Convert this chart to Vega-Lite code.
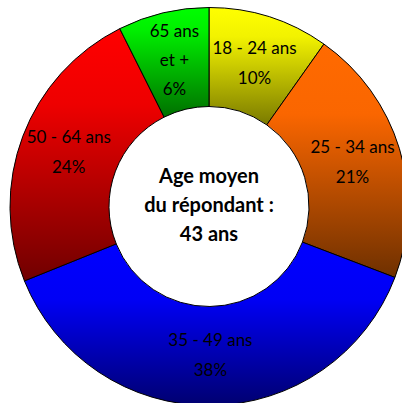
{
  "$schema": "https://vega.github.io/schema/vega-lite/v6.json",
  "width": 386,
  "height": 393,
  "autosize": {"type": "none"},
  "padding": {"left": 16, "top": 10, "right": 0, "bottom": 0},
  "background": "white",
  "config": {"view": {"stroke": null}},
  "layer": [
    {
      "data": {"values": [
        {"age": "18 - 24 ans", "pct": 9.8, "label": "18 - 24 ans\n10%"},
        {"age": "25 - 34 ans", "pct": 21.0, "label": "25 - 34 ans\n21%"},
        {"age": "35 - 49 ans", "pct": 38.1, "label": "35 - 49 ans\n38%"},
        {"age": "50 - 64 ans", "pct": 23.7, "label": "50 - 64 ans\n24%"},
        {"age": "65 ans et +", "pct": 7.4, "label": "65 ans\net +\n6%"}
      ]},
      "encoding": {
        "theta": {"field": "pct", "type": "quantitative", "stack": true}
      },
      "layer": [
        {
          "mark": {"type": "arc", "outerRadius": 199, "innerRadius": 100, "stroke": "black", "strokeWidth": 1},
          "encoding": {
            "fill": {
              "condition": [
                {"test": "datum.age === '18 - 24 ans'", "value": {"gradient": "linear", "x1": 0, "y1": 0, "x2": 0, "y2": 1, "stops": [{"offset": 0, "color": "#ffff00"}, {"offset": 0.25, "color": "#f2f200"}, {"offset": 1, "color": "#7a7a00"}]}},
                {"test": "datum.age === '25 - 34 ans'", "value": {"gradient": "linear", "x1": 0, "y1": 0, "x2": 0, "y2": 1, "stops": [{"offset": 0, "color": "#ff6a00"}, {"offset": 0.3, "color": "#fa6600"}, {"offset": 1, "color": "#6e3000"}]}},
                {"test": "datum.age === '35 - 49 ans'", "value": {"gradient": "linear", "x1": 0, "y1": 0, "x2": 0, "y2": 1, "stops": [{"offset": 0, "color": "#0000ff"}, {"offset": 0.35, "color": "#0000f5"}, {"offset": 1, "color": "#000070"}]}},
                {"test": "datum.age === '50 - 64 ans'", "value": {"gradient": "linear", "x1": 0, "y1": 0, "x2": 0, "y2": 1, "stops": [{"offset": 0, "color": "#ff0000"}, {"offset": 0.3, "color": "#ee0000"}, {"offset": 1, "color": "#700000"}]}}
              ],
              "value": {"gradient": "linear", "x1": 0, "y1": 0, "x2": 0, "y2": 1, "stops": [{"offset": 0, "color": "#00ff00"}, {"offset": 0.2, "color": "#00f000"}, {"offset": 1, "color": "#007000"}]}
            }
          }
        },
        {
          "mark": {"type": "text", "radius": 150, "font": "Lato", "fontSize": 17, "lineBreak": "\n", "lineHeight": 30, "baseline": "middle", "align": "center", "color": "black", "dy": -15},
          "encoding": {
            "text": {"condition": {"test": "datum.age === '65 ans et +'", "value": ""}, "field": "label", "type": "nominal"}
          }
        },
        {
          "mark": {"type": "text", "radius": 150, "font": "Lato", "fontSize": 17, "lineBreak": "\n", "lineHeight": 29, "baseline": "middle", "align": "center", "color": "black", "dy": -29},
          "encoding": {
            "text": {"condition": {"test": "datum.age !== '65 ans et +'", "value": ""}, "field": "label", "type": "nominal"}
          }
        }
      ]
    },
    {
      "data": {"values": [{"t": "Age moyen\ndu répondant :\n43 ans"}]},
      "mark": {"type": "text", "font": "Lato", "fontSize": 20, "fontWeight": "bold", "lineBreak": "\n", "lineHeight": 29, "baseline": "middle", "align": "center", "color": "black", "dy": -30},
      "encoding": {
        "text": {"field": "t", "type": "nominal"}
      }
    }
  ]
}
